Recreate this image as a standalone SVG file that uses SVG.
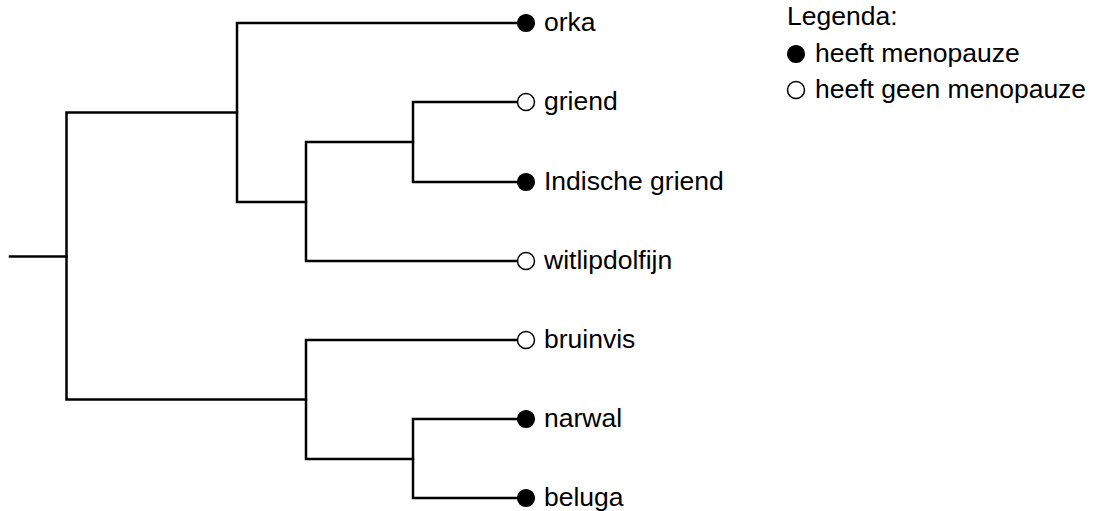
<svg xmlns="http://www.w3.org/2000/svg" width="1096" height="511" viewBox="0 0 1096 511">
<style>
.br{fill:none;stroke:#000;stroke-width:2.5;stroke-linecap:square;stroke-linejoin:miter}
.lbl{font-family:"Liberation Sans",Arial,sans-serif;font-size:26.5px;fill:#000}
.f{fill:#000;stroke:#000;stroke-width:1.2}
.o{fill:#fff;stroke:#000;stroke-width:1.5}
</style>
<rect width="1096" height="511" fill="#fff"/>
<g id="connectors">
<path class="br" d="M10,256.5 H66.5"/>
<path class="br" d="M237,112.5 H66.5 V399.5 H306"/>
<path class="br" d="M518,23 H237 V202 H306"/>
<path class="br" d="M413,142 H306 V261 H518"/>
<path class="br" d="M518,102 H413 V182 H518"/>
<path class="br" d="M518,340 H306 V459 H413"/>
<path class="br" d="M518,419 H413 V498 H518"/>
</g>
<g id="orka"><circle class="f" cx="526" cy="23" r="8.5"/><text class="lbl" x="544" y="31">orka</text></g>
<g id="griend"><circle class="o" cx="526" cy="102" r="8.5"/><text class="lbl" x="544" y="110">griend</text></g>
<g id="indische-griend"><circle class="f" cx="526" cy="182" r="8.5"/><text class="lbl" x="544" y="190">Indische griend</text></g>
<g id="witlipdolfijn"><circle class="o" cx="526" cy="261" r="8.5"/><text class="lbl" x="544" y="269">witlipdolfijn</text></g>
<g id="bruinvis"><circle class="o" cx="526" cy="340" r="8.5"/><text class="lbl" x="544" y="348">bruinvis</text></g>
<g id="narwal"><circle class="f" cx="526" cy="419" r="8.5"/><text class="lbl" x="544" y="427">narwal</text></g>
<g id="beluga"><circle class="f" cx="526" cy="498" r="8.5"/><text class="lbl" x="544" y="506">beluga</text></g>
<g id="legend">
<text class="lbl" x="787" y="25">Legenda:</text>
<circle class="f" cx="796" cy="54" r="8.5"/>
<text class="lbl" x="815" y="62">heeft menopauze</text>
<circle class="o" cx="796" cy="90" r="8.5"/>
<text class="lbl" x="815" y="98">heeft geen menopauze</text>
</g>
</svg>
